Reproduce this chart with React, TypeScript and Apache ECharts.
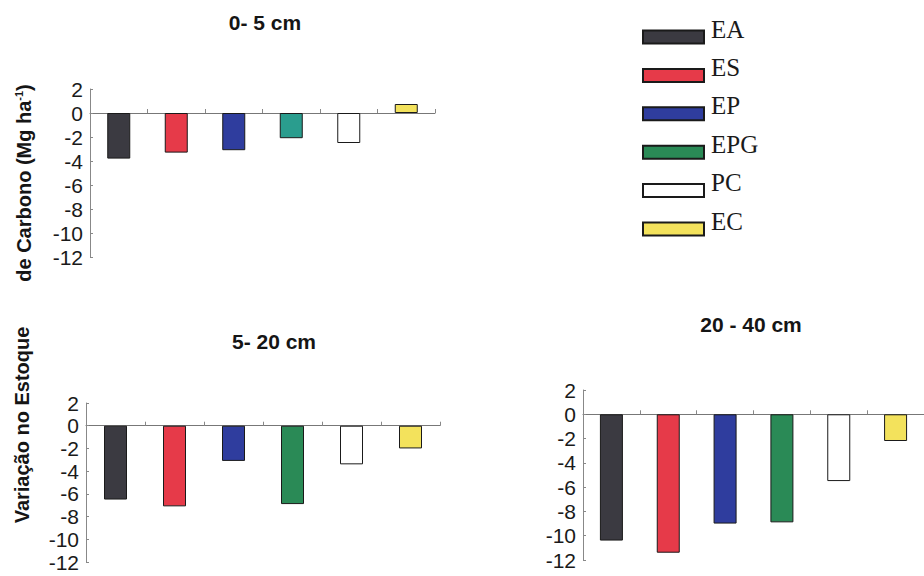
import React, { useEffect, useRef } from "react";
import * as echarts from "echarts";

const categories = ["EA", "ES", "EP", "EPG", "PC", "EC"];
const depth0to5 = [-3.8, -3.3, -3.1, -2.1, -2.5, 0.75];
const depth5to20 = [-6.5, -7.1, -3.1, -6.9, -3.4, -2.0];
const depth20to40 = [-10.4, -11.4, -9.0, -8.9, -5.5, -2.2];
const panelTitles = ["0- 5 cm", "5- 20 cm", "20 - 40 cm"];
const yMin = -12;
const yMax = 2;
const yStep = 2;

const colors = ["#3b3a41", "#e63a49", "#2f3d9e", "#2a8a56", "#ffffff", "#f3e25c"];
const tealTop = "#2a9d8e";

export default function App() {
  const ref = useRef<HTMLDivElement>(null);
  useEffect(() => {
    if (!ref.current) return;
    const chart = echarts.init(ref.current, null, { renderer: "svg" });
    const panels = [depth0to5, depth5to20, depth20to40];
    const grids = [
      { left: 90, top: 89, width: 345, height: 168 },
      { left: 86, top: 403, width: 354, height: 159 },
      { left: 583, top: 390, width: 344, height: 170 },
    ];
    const titlePos = [
      { x: 265, y: 12 },
      { x: 274, y: 331 },
      { x: 751, y: 314 },
    ];
    const legendRowStep = 38.4;
    const series: any[] = [];
    panels.forEach((vals, p) => {
      categories.forEach((c, i) => {
        const color = p === 0 && i === 3 ? tealTop : colors[i];
        series.push({
          type: "bar",
          name: c,
          xAxisIndex: p,
          yAxisIndex: p,
          barWidth: 23,
          barGap: "-100%",
          itemStyle: { color: colors[i], borderColor: "#1a1a1a", borderWidth: 1 },
          data: vals.map((v, j) =>
            j === i ? { value: v, itemStyle: { color } } : "-"
          ),
        });
      });
    });
    chart.setOption({
      animation: false,
      backgroundColor: "#ffffff",
      title: panelTitles.map((t, k) => ({
        text: t,
        left: titlePos[k].x,
        top: titlePos[k].y,
        padding: 0,
        textAlign: "center",
        textStyle: {
          fontFamily: "Liberation Sans, Arial, sans-serif",
          fontSize: 21,
          fontWeight: "bold",
          color: "#151515",
        },
      })),
      legend: {
        data: categories,
        orient: "vertical",
        left: 642,
        top: 29.5,
        padding: 0,
        itemWidth: 61,
        itemHeight: 13,
        itemGap: legendRowStep - 15,
        icon: "rect",
        selectedMode: false,
        formatter: () => "",
        textStyle: { fontSize: 1, lineHeight: 1 },
      },
      grid: grids,
      xAxis: grids.map((_, k) => ({
        type: "category",
        gridIndex: k,
        data: categories,
        axisLine: { onZero: true, lineStyle: { color: "#777", width: 1 } },
        axisTick: { show: true, inside: true, length: 4, lineStyle: { color: "#888" } },
        axisLabel: { show: false },
        splitLine: { show: false },
      })),
      yAxis: grids.map((_, k) => ({
        type: "value",
        gridIndex: k,
        min: yMin,
        max: yMax,
        interval: yStep,
        axisLine: { show: true, lineStyle: { color: "#888", width: 1 } },
        axisTick: { show: true, inside: true, length: 3, lineStyle: { color: "#888" } },
        axisLabel: {
          fontFamily: "Liberation Sans, Arial, sans-serif",
          fontSize: 21,
          color: "#1a1a1a",
          margin: 7,
        },
        splitLine: { show: false },
      })),
      graphic: [
        ...categories.map((c, i) => ({
          type: "text",
          x: 711,
          y: 29 + legendRowStep * i,
          style: {
            text: c,
            align: "left",
            verticalAlign: "middle",
            fill: "#1a1a1a",
            font: "25px 'Liberation Serif', 'Times New Roman', serif",
          },
        })),
        {
          type: "text",
          x: 24,
          y: 183,
          rotation: Math.PI / 2,
          style: {
            text: "{a|de Carbono (Mg ha}{s|-1}{a|)}",
            align: "center",
            verticalAlign: "middle",
            fill: "#151515",
            rich: {
              a: {
                fontFamily: "Liberation Sans, Arial, sans-serif",
                fontSize: 20,
                fontWeight: "bold",
                fill: "#151515",
                lineHeight: 22,
              },
              s: {
                fontFamily: "Liberation Sans, Arial, sans-serif",
                fontSize: 11,
                fontWeight: "bold",
                fill: "#151515",
                verticalAlign: "top",
                lineHeight: 22,
                padding: [0, 0, 10, 0],
              },
            },
          },
        },
        {
          type: "text",
          x: 22,
          y: 425,
          rotation: Math.PI / 2,
          style: {
            text: "Variação no Estoque",
            align: "center",
            verticalAlign: "middle",
            fill: "#151515",
            font: "bold 20px 'Liberation Sans', Arial, sans-serif",
          },
        },
      ],
      series,
    });
    return () => chart.dispose();
  }, []);
  return (
    <div
      ref={ref}
      style={{ position: "absolute", left: 0, top: 0, width: 924, height: 576 }}
    />
  );
}
